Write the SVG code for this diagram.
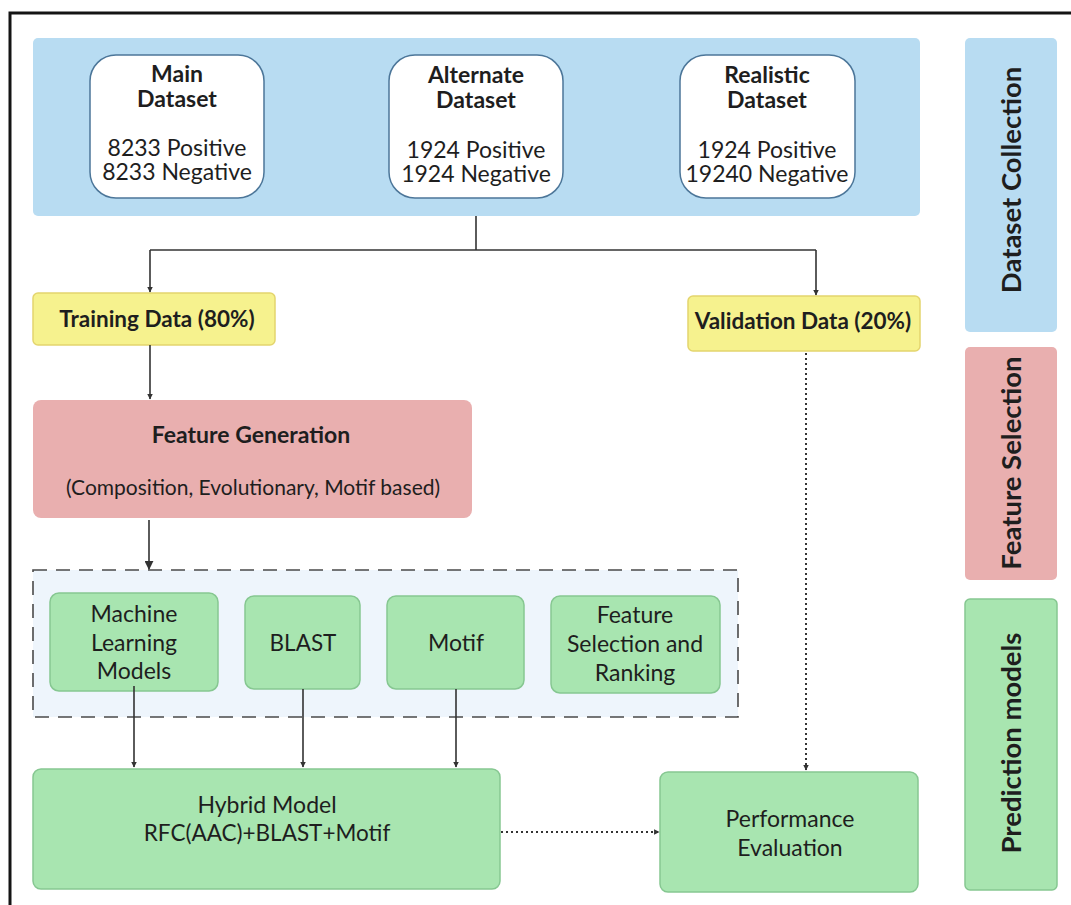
<svg xmlns="http://www.w3.org/2000/svg" width="1071" height="905" viewBox="0 0 1071 905">
  <style>
    text { font-family: Lato, "Open Sans", "Liberation Sans", sans-serif; fill: #1e1e1e; text-anchor: middle; }
    .b { font-weight: bold; }
    .t23 { font-size: 23px; }
    .t22 { font-size: 22.5px; }
    .t21 { font-size: 21px; }
    .side { font-size: 27.5px; font-weight: bold; }
    .blue { fill: #b8dcf2; }
    .pink { fill: #e9afaf; }
    .green { fill: #a8e5b0; stroke: #86c791; stroke-width: 1.5; }
    .yellow { fill: #f6f28e; stroke: #e4d56e; stroke-width: 1.5; }
    .ds { fill: #ffffff; stroke: #4c7699; stroke-width: 1.5; }
    .edge { fill: none; stroke: #333333; stroke-width: 1.6; }
    .dot { fill: none; stroke: #333333; stroke-width: 2; stroke-dasharray: 2 3; }
  </style>
  <defs>
    <marker id="arrow" viewBox="0 0 10 10" refX="9" refY="5" markerWidth="5.5" markerHeight="5.5" orient="auto" markerUnits="userSpaceOnUse">
      <path d="M0,0 L10,5 L0,10 Z" fill="#333333"/>
    </marker>
    <marker id="arrowS" viewBox="0 0 10 10" refX="9" refY="5" markerWidth="9" markerHeight="9" orient="auto" markerUnits="userSpaceOnUse">
      <path d="M0,0 L10,5 L0,10 Z" fill="#333333"/>
    </marker>
  </defs>

  <rect width="1071" height="905" fill="#ffffff"/>
  <!-- outer frame -->
  <rect x="10" y="13" width="1080" height="910" fill="none" stroke="#141414" stroke-width="3"/>

  <!-- stage labels on the right -->
  <g id="stage-dataset-collection">
    <rect class="blue" x="965" y="38" width="92" height="294" rx="5"/>
    <text class="side" transform="translate(1021 180) rotate(-90)">Dataset Collection</text>
  </g>
  <g id="stage-feature-selection">
    <rect class="pink" x="965" y="347" width="92" height="233" rx="5"/>
    <text class="side" transform="translate(1021 463) rotate(-90)">Feature Selection</text>
  </g>
  <g id="stage-prediction-models">
    <rect fill="#a8e5b0" stroke="#86c791" stroke-width="1.5" x="965" y="599" width="92" height="291" rx="5"/>
    <text class="side" transform="translate(1021 743) rotate(-90)">Prediction models</text>
  </g>

  <!-- dataset collection panel -->
  <g id="dataset-panel">
    <rect class="blue" x="33" y="38" width="887" height="178" rx="5"/>
  </g>
  <g id="main-dataset">
    <rect class="ds" x="90" y="55" width="174" height="143" rx="26"/>
    <text class="b t23" x="177" y="82">Main</text>
    <text class="b t23" x="177" y="107">Dataset</text>
    <text class="t23" x="177" y="156">8233 Positive</text>
    <text class="t23" x="177" y="180">8233 Negative</text>
  </g>
  <g id="alternate-dataset">
    <rect class="ds" x="389" y="55" width="174" height="143" rx="26"/>
    <text class="b t23" x="476" y="83">Alternate</text>
    <text class="b t23" x="476" y="108">Dataset</text>
    <text class="t23" x="476" y="158">1924 Positive</text>
    <text class="t23" x="476" y="182">1924 Negative</text>
  </g>
  <g id="realistic-dataset">
    <rect class="ds" x="680" y="55" width="175" height="143" rx="26"/>
    <text class="b t23" x="767" y="83">Realistic</text>
    <text class="b t23" x="767" y="108">Dataset</text>
    <text class="t23" x="767" y="158">1924 Positive</text>
    <text class="t23" x="767" y="182">19240 Negative</text>
  </g>

  <!-- data split -->
  <g id="training-data">
    <rect class="yellow" x="33" y="293" width="242" height="52" rx="5"/>
    <text class="b t22" x="157" y="327">Training Data (80%)</text>
  </g>
  <g id="validation-data">
    <rect class="yellow" x="688" y="296" width="232" height="55" rx="5"/>
    <text class="b t22" x="803" y="329">Validation Data (20%)</text>
  </g>

  <!-- feature generation -->
  <g id="feature-generation">
    <rect class="pink" x="33" y="400" width="439" height="118" rx="8"/>
    <text class="b t23" x="251" y="443">Feature Generation</text>
    <text class="t21" x="253" y="495">(Composition, Evolutionary, Motif based)</text>
  </g>

  <!-- model group -->
  <g id="model-group">
    <rect x="33" y="570" width="705" height="147" fill="#eef5fc" stroke="#4a4a4a" stroke-width="1.6" stroke-dasharray="14 9"/>
  </g>
  <g id="ml-models">
    <rect class="green" x="50" y="593" width="168" height="98" rx="9"/>
    <text class="t23" x="134" y="622">Machine</text>
    <text class="t23" x="134" y="651">Learning</text>
    <text class="t23" x="134" y="679">Models</text>
  </g>
  <g id="blast">
    <rect class="green" x="245" y="596" width="115" height="93" rx="9"/>
    <text class="t22" x="303" y="651">BLAST</text>
  </g>
  <g id="motif">
    <rect class="green" x="387" y="596" width="137" height="93" rx="9"/>
    <text class="t23" x="456" y="651">Motif</text>
  </g>
  <g id="feature-ranking">
    <rect class="green" x="551" y="596" width="169" height="97" rx="9"/>
    <text class="t23" x="635" y="623">Feature</text>
    <text class="t23" x="635" y="652">Selection and</text>
    <text class="t23" x="635" y="681">Ranking</text>
  </g>

  <!-- outputs -->
  <g id="hybrid-model">
    <rect class="green" x="33" y="769" width="467" height="120" rx="8"/>
    <text class="t23" x="267" y="813">Hybrid Model</text>
    <text class="t22" x="267" y="841">RFC(AAC)+BLAST+Motif</text>
  </g>
  <g id="performance-evaluation">
    <rect class="green" x="660" y="772" width="258" height="120" rx="8"/>
    <text class="t23" x="790" y="827">Performance</text>
    <text class="t23" x="790" y="856">Evaluation</text>
  </g>

  <!-- connectors -->
  <g id="connectors">
    <path class="edge" d="M476,216 V250"/>
    <path class="edge" d="M150,250 H816"/>
    <path class="edge" d="M150,250 V292" marker-end="url(#arrow)"/>
    <path class="edge" d="M816,250 V295" marker-end="url(#arrow)"/>
    <path class="edge" d="M150,345 V399" marker-end="url(#arrow)"/>
    <path class="edge" d="M149,520 V569" stroke-width="2.2" marker-end="url(#arrowS)"/>
    <path class="edge" d="M134,686 V767" marker-end="url(#arrow)"/>
    <path class="edge" d="M303,689 V767" marker-end="url(#arrow)"/>
    <path class="edge" d="M456,689 V767" marker-end="url(#arrow)"/>
    <path class="dot" d="M806,353 V770" marker-end="url(#arrow)"/>
    <path class="dot" d="M501,832 H659" marker-end="url(#arrow)"/>
  </g>
</svg>
